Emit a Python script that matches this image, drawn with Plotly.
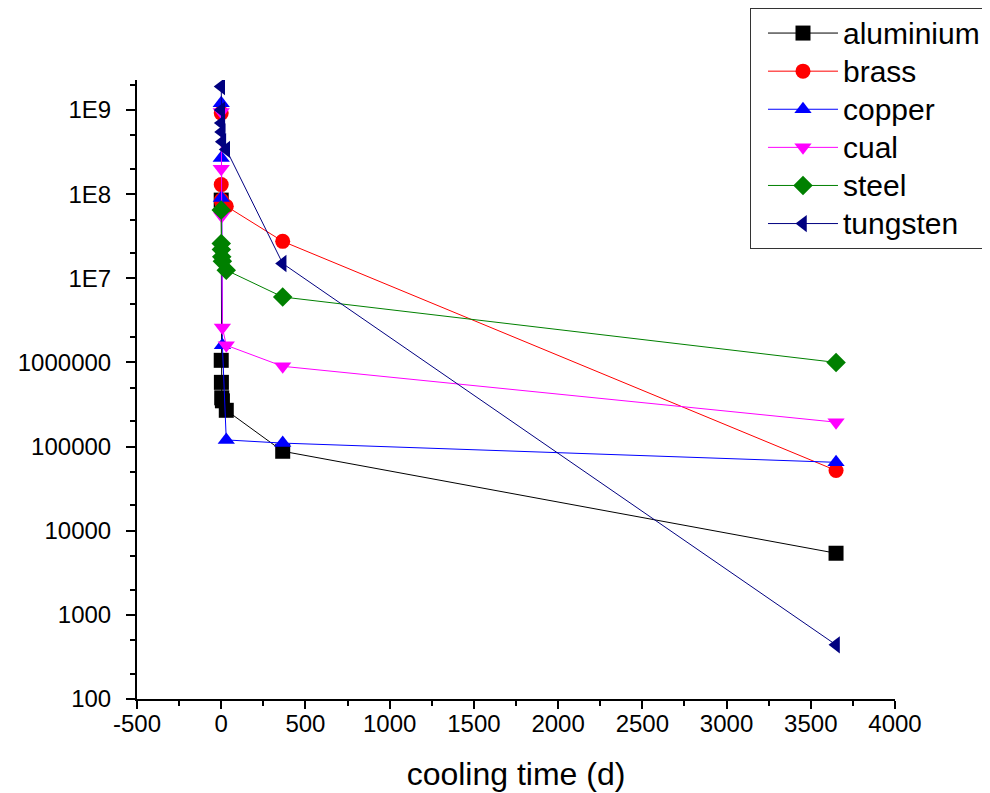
import plotly.graph_objects as go

# cooling times (days)
times = [0, 1/24, 1, 3, 7, 30, 365, 3650]

aluminium = [8.5e7, 1.06e6, 5.8e5, 3.8e5, 3.5e5, 2.7e5, 8.8e4, 5.4e3]
brass     = [9.2e8, 1.3e8, 8.5e7, 8.0e7, 7.5e7, 7.2e7, 2.75e7, 5.2e4]
copper    = [1.2e9, 2.7e8, 9.0e7, 7.0e7, 1.6e6, 1.2e5, 1.1e5, 6.5e4]
cual      = [9.5e8, 2.0e8, 6.0e7, 5.5e7, 2.6e6, 1.6e6, 9.0e5, 1.95e5]
steel     = [6.5e7, 2.6e7, 2.2e7, 1.8e7, 1.6e7, 1.25e7, 6.0e6, 1.0e6]
tungsten  = [1.9e9, 1.0e9, 7.0e8, 5.5e8, 4.2e8, 3.4e8, 1.5e7, 440]

series_names = ["aluminium", "brass", "copper", "cual", "steel", "tungsten"]
series_values = [aluminium, brass, copper, cual, steel, tungsten]
colors = ["#000000", "#FF0000", "#0000FF", "#FF00FF", "#008000", "#000080"]
symbols = ["square", "circle", "triangle-up", "triangle-down", "diamond", "triangle-left"]

y_tickvals = [1e2, 1e3, 1e4, 1e5, 1e6, 1e7, 1e8, 1e9]
y_ticktext = ["100", "1000", "10000", "100000", "1000000", "1E7", "1E8", "1E9"]
x_tickvals = [-500, 0, 500, 1000, 1500, 2000, 2500, 3000, 3500, 4000]
x_ticktext = ["-500", "0", "500", "1000", "1500", "2000", "2500", "3000", "3500", "4000"]

fig = go.Figure()
for name, vals, c, s in zip(series_names, series_values, colors, symbols):
    fig.add_trace(go.Scatter(
        x=times, y=vals, mode="lines+markers",
        name="<span style='font-size:30px'>" + name + "</span>",
        line=dict(color=c, width=1),
        marker=dict(symbol=s, size=15, color=c, line=dict(width=0)),
    ))

font = "Arial, Liberation Sans, sans-serif"
fig.update_layout(
    width=990, height=793,
    margin=dict(l=129, r=103, t=72, b=102, autoexpand=False),
    paper_bgcolor="white", plot_bgcolor="white",
    font=dict(family=font, color="black"),
    showlegend=True,
    legend=dict(
        x=0.8087, y=1.1163, xanchor="left", yanchor="top",
        bordercolor="#333333", borderwidth=1, bgcolor="white",
        font=dict(size=27, family=font), itemwidth=70,
        tracegroupgap=0, indentation=12,
    ),
    xaxis=dict(
        range=[-500, 4000], tickvals=x_tickvals, ticktext=x_ticktext,
        ticks="outside", ticklen=8, tickwidth=2, tickcolor="black",
        minor=dict(dtick=250, ticks="outside", ticklen=5, tickwidth=2, tickcolor="black", showgrid=False),
        showline=True, linecolor="black", linewidth=2,
        showgrid=False, zeroline=False,
        tickfont=dict(size=24), ticklabelstandoff=-6,
        title=dict(text="cooling time (d)", font=dict(size=32), standoff=27),
    ),
    yaxis=dict(
        type="log", range=[2, 9.357],
        tickvals=y_tickvals, ticktext=y_ticktext,
        ticks="outside", ticklen=9, tickwidth=2, tickcolor="black",
        minor=dict(ticks="outside", ticklen=5, tickwidth=1.5, tickcolor="black", showgrid=False),
        showline=True, linecolor="black", linewidth=2,
        showgrid=False, zeroline=False,
        tickfont=dict(size=24), ticklabelstandoff=10,
    ),
)

fig.write_html("out.html")
